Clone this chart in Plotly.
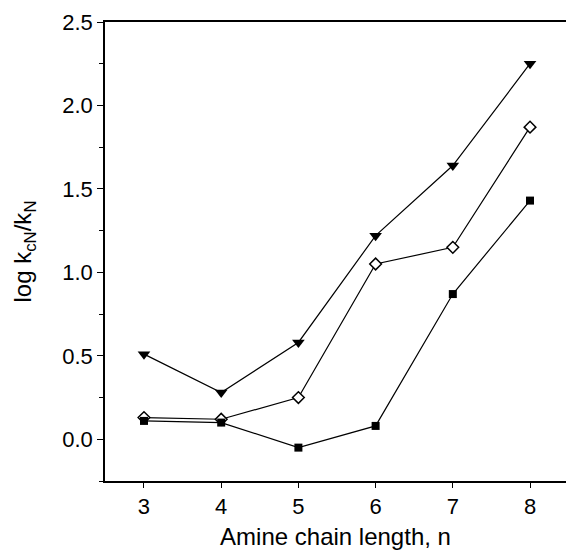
import plotly.graph_objects as go

n = [3, 4, 5, 6, 7, 8]
tri = [0.51, 0.28, 0.58, 1.22, 1.64, 2.25]
dia = [0.13, 0.12, 0.25, 1.05, 1.15, 1.87]
sq = [0.11, 0.10, -0.05, 0.08, 0.87, 1.43]

fig = go.Figure()
line = dict(color="black", width=1.2)
fig.add_trace(go.Scatter(x=n, y=tri, mode="lines+markers", line=line,
                         marker=dict(symbol="triangle-down", size=11, color="black")))
fig.add_trace(go.Scatter(x=n, y=dia, mode="lines+markers", line=line,
                         marker=dict(symbol="diamond", size=9, color="white",
                                     line=dict(color="black", width=1.5))))
fig.add_trace(go.Scatter(x=n, y=sq, mode="lines+markers", line=line,
                         marker=dict(symbol="square", size=8, color="black")))

font = dict(family="Liberation Sans, Arial, sans-serif", color="black")
fig.update_layout(
    width=566, height=550,
    margin=dict(l=105, r=0, t=22, b=69),
    paper_bgcolor="white", plot_bgcolor="white",
    showlegend=False,
    font=dict(size=22, **font),
    xaxis=dict(range=[2.495, 8.466], tickvals=[3, 4, 5, 6, 7, 8],
               showline=True, linecolor="black", linewidth=1.5, mirror=True,
               ticks="outside", ticklen=5, tickcolor="black", showgrid=False,
               zeroline=False, tickfont=dict(size=22),
               title=dict(text="Amine chain length, n", font=dict(size=24), standoff=10)),
    yaxis=dict(range=[-0.25, 2.5], tickvals=[0, 0.5, 1.0, 1.5, 2.0, 2.5],
               tickformat=".1f",
               showline=True, linecolor="black", linewidth=1.5, mirror=False,
               ticks="outside", ticklen=6, tickcolor="black", showgrid=False,
               zeroline=False, tickfont=dict(size=22),
               minor=dict(dtick=0.25, tick0=0, ticks="outside", ticklen=4, tickcolor="black"),
               title=dict(text="log k<sub>cN</sub>/k<sub>N</sub>", font=dict(size=24), standoff=24)),
)
fig.write_html("out.html")
